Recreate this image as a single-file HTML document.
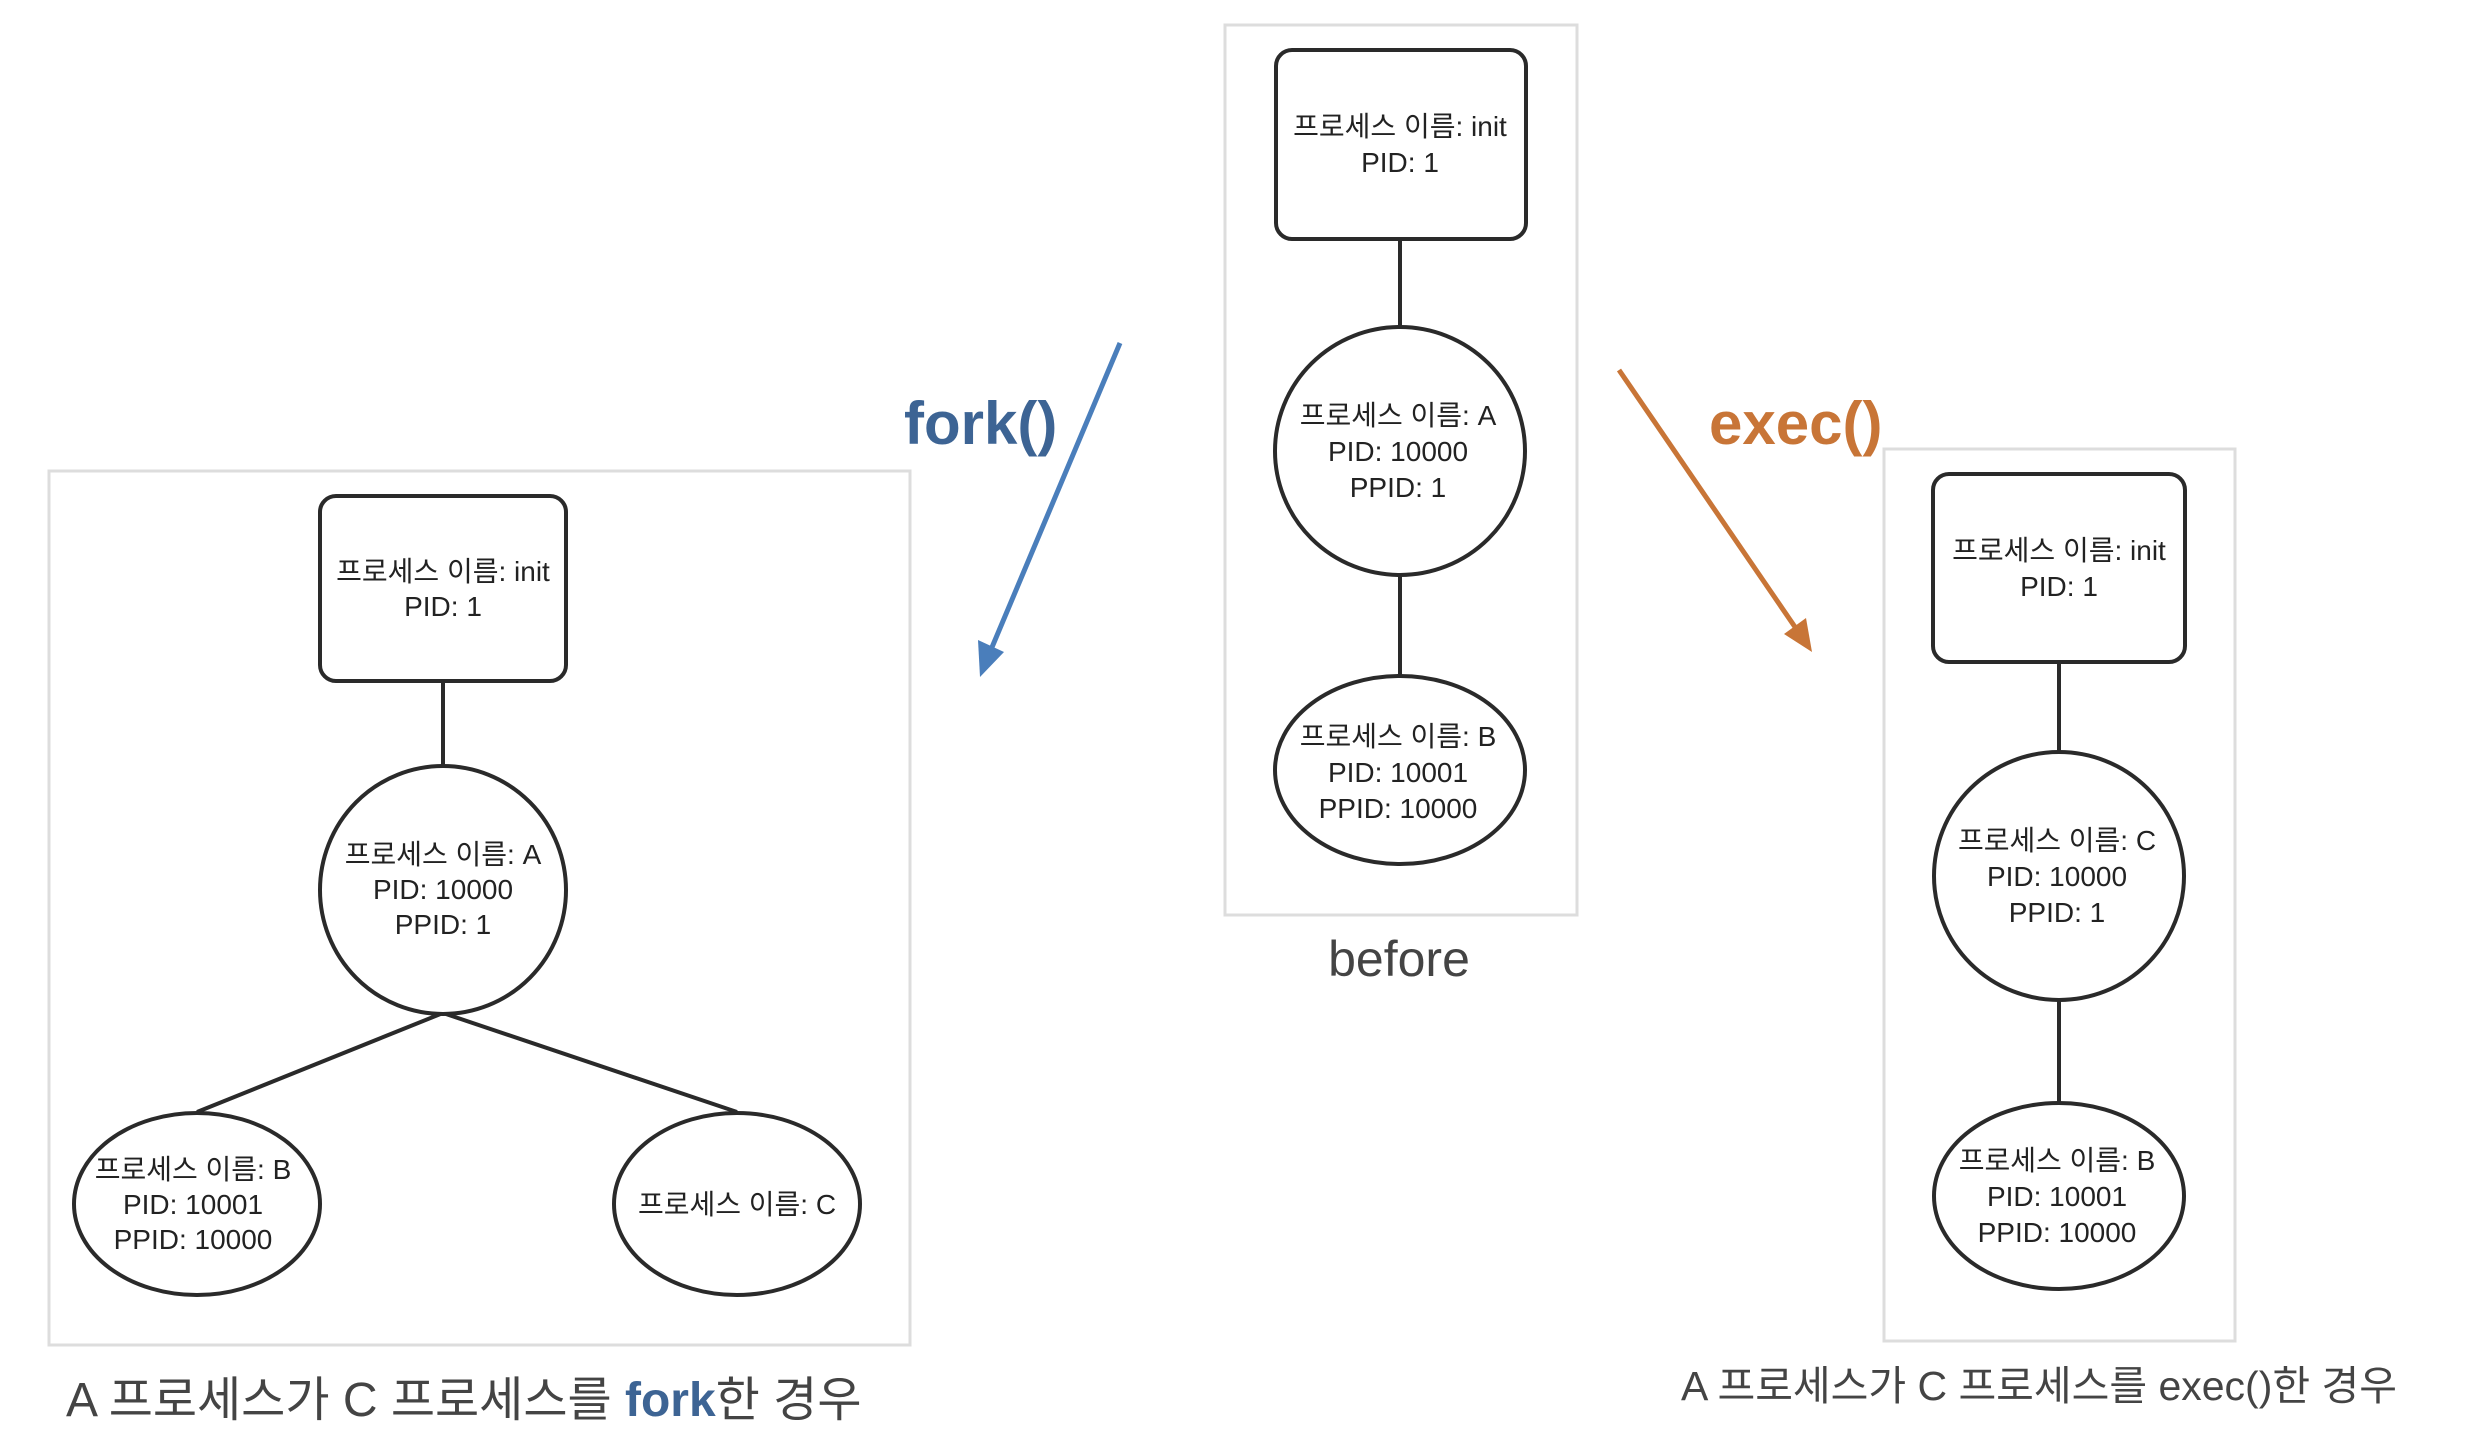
<!DOCTYPE html>
<html><head><meta charset="utf-8"><style>
html,body{margin:0;padding:0;background:#fff;}
svg{display:block;}
text{font-family:"Liberation Sans","Noto Sans CJK KR",sans-serif;}
.n{font-size:28px;fill:#222;text-anchor:middle;}
</style></head><body>
<svg width="2470" height="1446" viewBox="0 0 2470 1446" xmlns="http://www.w3.org/2000/svg">
<defs>
<marker id="ab" markerWidth="10" markerHeight="10" refX="7" refY="5" orient="auto" markerUnits="userSpaceOnUse" viewBox="0 0 10 10"><path d="M0,0 L10,5 L0,10 L2.5,5 z" fill="#4a7ebb"/></marker>
</defs>
<g fill="none" stroke="#ddd" stroke-width="3">
<rect x="49" y="471" width="861" height="874"/>
<rect x="1225" y="25" width="352" height="890"/>
<rect x="1884" y="449" width="351" height="892"/>
</g>
<g stroke="#2a2a2a" stroke-width="4" fill="#fff">
<!-- left -->
<line x1="443" y1="681" x2="443" y2="766"/>
<line x1="443" y1="1013" x2="197" y2="1112"/>
<line x1="443" y1="1013" x2="737" y2="1112"/>
<rect x="320" y="496" width="246" height="185" rx="16"/>
<ellipse cx="443" cy="890" rx="123" ry="124"/>
<ellipse cx="197" cy="1204" rx="123" ry="91"/>
<ellipse cx="737" cy="1204" rx="123" ry="91"/>
<!-- center -->
<line x1="1400" y1="239" x2="1400" y2="328"/>
<line x1="1400" y1="575" x2="1400" y2="677"/>
<rect x="1276" y="50" width="250" height="189" rx="16"/>
<ellipse cx="1400" cy="451" rx="125" ry="124"/>
<ellipse cx="1400" cy="770" rx="125" ry="94"/>
<!-- right -->
<line x1="2059" y1="662" x2="2059" y2="752"/>
<line x1="2059" y1="1000" x2="2059" y2="1103"/>
<rect x="1933" y="474" width="252" height="188" rx="16"/>
<ellipse cx="2059" cy="876" rx="125" ry="124"/>
<ellipse cx="2059" cy="1196" rx="125" ry="93"/>
</g>
<!-- node texts -->
<text class="n" x="443" y="581">프로세스 이름: init</text>
<text class="n" x="443" y="616">PID: 1</text>
<text class="n" x="443" y="864">프로세스 이름: A</text>
<text class="n" x="443" y="899">PID: 10000</text>
<text class="n" x="443" y="934">PPID: 1</text>
<text class="n" x="193" y="1179">프로세스 이름: B</text>
<text class="n" x="193" y="1214">PID: 10001</text>
<text class="n" x="193" y="1249">PPID: 10000</text>
<text class="n" x="737" y="1214">프로세스 이름: C</text>

<text class="n" x="1400" y="136">프로세스 이름: init</text>
<text class="n" x="1400" y="172">PID: 1</text>
<text class="n" x="1398" y="425">프로세스 이름: A</text>
<text class="n" x="1398" y="461">PID: 10000</text>
<text class="n" x="1398" y="497">PPID: 1</text>
<text class="n" x="1398" y="746">프로세스 이름: B</text>
<text class="n" x="1398" y="782">PID: 10001</text>
<text class="n" x="1398" y="818">PPID: 10000</text>

<text class="n" x="2059" y="560">프로세스 이름: init</text>
<text class="n" x="2059" y="596">PID: 1</text>
<text class="n" x="2057" y="850">프로세스 이름: C</text>
<text class="n" x="2057" y="886">PID: 10000</text>
<text class="n" x="2057" y="922">PPID: 1</text>
<text class="n" x="2057" y="1170">프로세스 이름: B</text>
<text class="n" x="2057" y="1206">PID: 10001</text>
<text class="n" x="2057" y="1242">PPID: 10000</text>

<!-- arrows -->
<line x1="1120" y1="343" x2="990" y2="652" stroke="#4a7ebb" stroke-width="5"/>
<polygon points="980,677 978,640 1004,652" fill="#4a7ebb"/>
<line x1="1619" y1="370" x2="1795" y2="627" stroke="#c87537" stroke-width="5"/>
<polygon points="1812,652 1784,634 1806,618" fill="#c87537"/>
<text x="904" y="444" font-size="60" font-weight="bold" fill="#3d6494">fork()</text>
<text x="1709" y="444" font-size="60" font-weight="bold" fill="#c87537">exec()</text>

<text x="1399" y="976" font-size="50" fill="#444" text-anchor="middle">before</text>
<text x="66" y="1416" font-size="48" fill="#444">A 프로세스가 C 프로세스를 <tspan font-weight="bold" fill="#3d6494">fork</tspan>한 경우</text>
<text x="1681" y="1400" font-size="41" fill="#444">A 프로세스가 C 프로세스를 exec()한 경우</text>
</svg>
</body></html>
